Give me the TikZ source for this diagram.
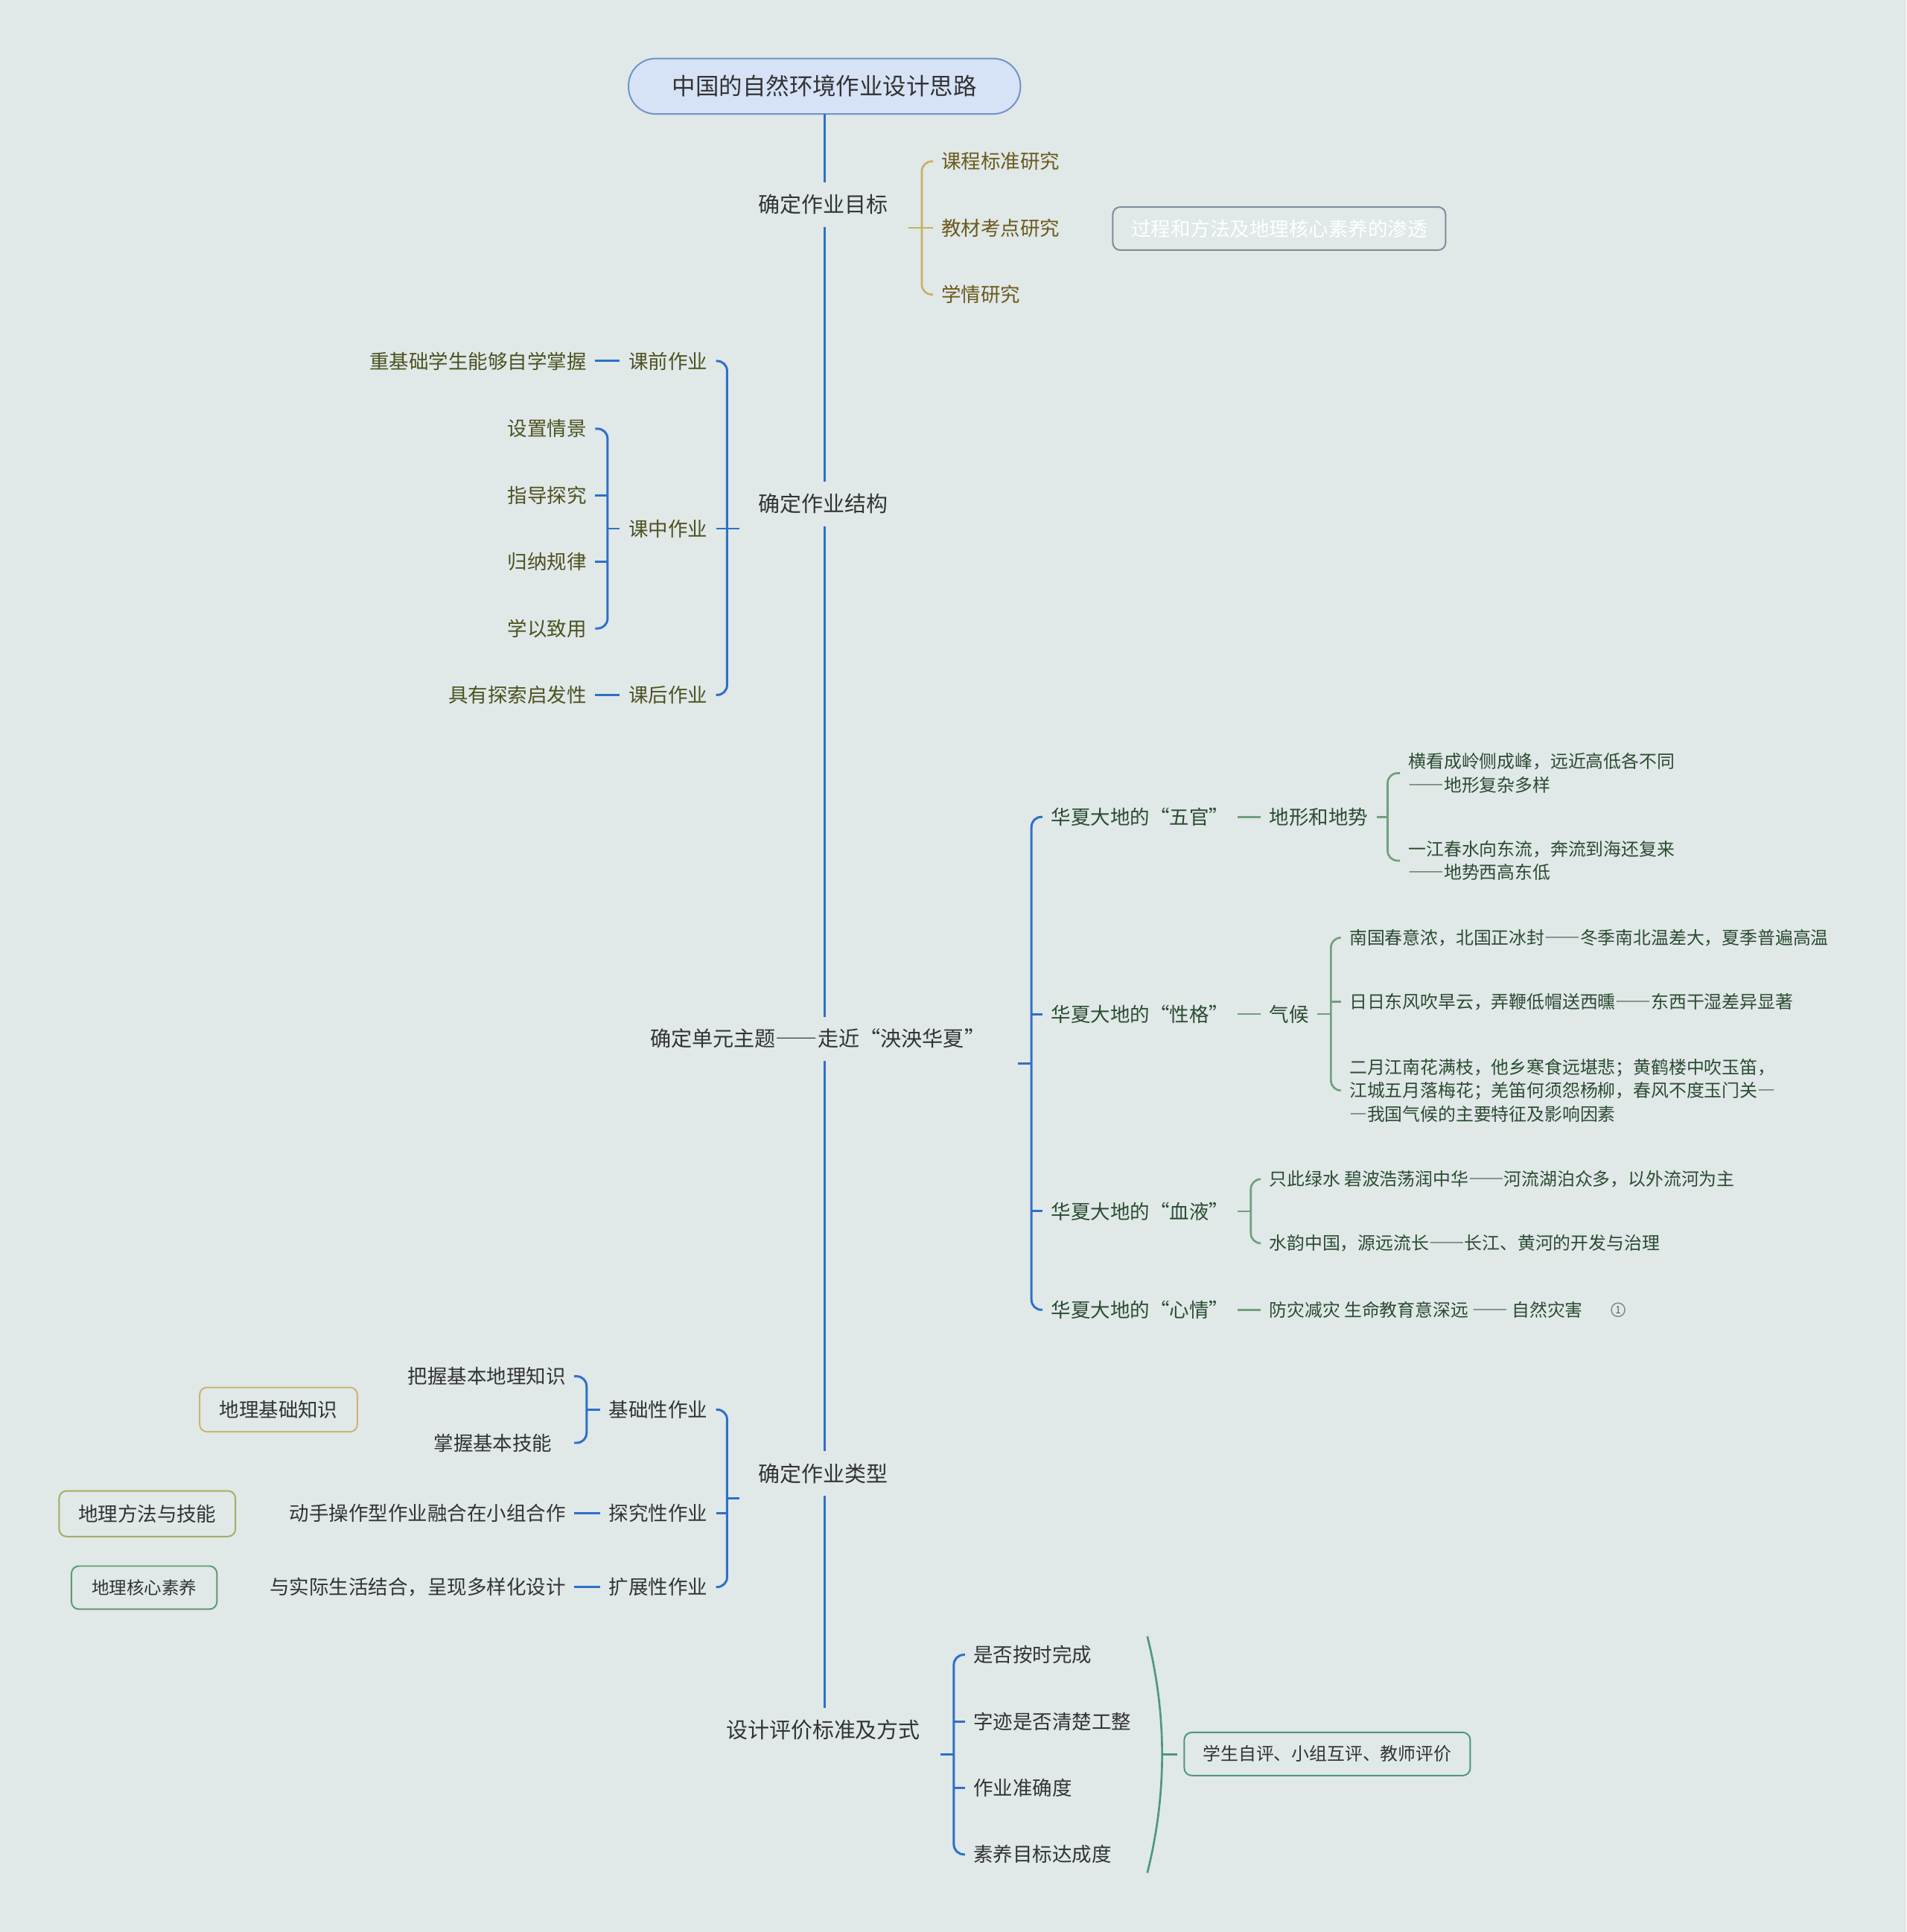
\documentclass[tikz,border=0pt]{standalone}
\usepackage{fontspec}
\setmainfont{Noto Sans CJK SC}[Script=CJK, Language=Chinese Simplified]
\definecolor{bg}{RGB}{224,232,232}
\definecolor{txt}{RGB}{51,51,51}
\definecolor{bl}{RGB}{46,112,200}
\definecolor{goldl}{RGB}{201,175,100}
\definecolor{goldt}{RGB}{107,90,28}
\definecolor{olivet}{RGB}{76,82,32}
\definecolor{greenl}{RGB}{112,160,122}
\definecolor{greent}{RGB}{44,76,50}
\definecolor{rootfill}{RGB}{214,226,246}
\definecolor{rootdraw}{RGB}{112,148,200}
\definecolor{wbdraw}{RGB}{125,140,156}
\definecolor{goldb}{RGB}{201,182,110}
\definecolor{oliveb}{RGB}{165,172,100}
\definecolor{greenb}{RGB}{95,154,110}
\definecolor{teal}{RGB}{78,150,131}
\begin{document}
\begin{tikzpicture}[x=0.5pt,y=-0.5pt,
  every node/.style={inner sep=0pt, outer sep=0pt},
  mainlbl/.style={text=txt, fill=bg, font=\fontsize{8.75pt}{10.5pt}\selectfont, inner xsep=3pt, inner ysep=5pt},
  sub/.style={font=\fontsize{8pt}{9.6pt}\selectfont, inner xsep=3.5pt, inner ysep=1pt},
  small/.style={font=\fontsize{7.2pt}{9.5pt}\selectfont, inner xsep=3.5pt, inner ysep=1pt, align=left},
  blline/.style={draw=bl, line width=0.9pt},
  goldline/.style={draw=goldl, line width=0.8pt},
  grline/.style={draw=greenl, line width=0.8pt},
  bxstyle/.style={draw, rounded corners=3pt, line width=0.6pt, text=txt},
]
\fill[bg] (0,0) rectangle (1547,1568);
\useasboundingbox (0,0) rectangle (1547,1568);

% root and main labels
\node[draw=rootdraw, fill=rootfill, rounded corners=11pt, line width=0.6pt,
      minimum width=159pt, minimum height=22.5pt, text=txt,
      font=\fontsize{9.5pt}{11pt}\selectfont] (root) at (669,70) {中国的自然环境作业设计思路};
\node[mainlbl] (m1) at (668,166) {确定作业目标};
\node[mainlbl] (m2) at (668,409) {确定作业结构};
\node[mainlbl, font=\fontsize{8.5pt}{10.5pt}\selectfont] (m3) at (663.5,843) {确定单元主题——走近“泱泱华夏”};
\node[mainlbl] (m4) at (668,1196) {确定作业类型};
\node[mainlbl] (m5) at (668,1404) {设计评价标准及方式};

\draw[blline] (root.south) -- (root.south |- m1.north);
\draw[blline] (root.south |- m1.south) -- (root.south |- m2.north);
\draw[blline] (root.south |- m2.south) -- (root.south |- m3.north);
\draw[blline] (root.south |- m3.south) -- (root.south |- m4.north);
\draw[blline] (root.south |- m4.south) -- (root.south |- m5.north);

% ---- branch 1 (gold)
\coordinate (t1) at (737,185);
\coordinate (b1) at (748,185);
\node[sub, text=goldt, anchor=west] (g1) at (757,131) {课程标准研究};
\node[sub, text=goldt, anchor=west] (g2) at (757,185) {教材考点研究};
\node[sub, text=goldt, anchor=west] (g3) at (757,239) {学情研究};
\draw[goldline, rounded corners=4pt] (g1.west) -- (b1 |- g1.west) -- (b1 |- g3.west) -- (g3.west);
\draw[goldline] (t1) -- (g2.west);
\node[bxstyle, draw=wbdraw, text=white, font=\fontsize{8pt}{9.6pt}\selectfont,
      minimum width=135pt, minimum height=17.5pt] (wb) at (1038,185.5) {过程和方法及地理核心素养的渗透};

% ---- branch 2 (blue, left)
\coordinate (t2) at (600,429);
\coordinate (b2) at (590,429);
\node[sub, text=olivet, anchor=east] (k1) at (581,293) {课前作业};
\node[sub, text=olivet, anchor=east] (k2) at (581,429) {课中作业};
\node[sub, text=olivet, anchor=east] (k3) at (581,564) {课后作业};
\draw[blline, rounded corners=4pt] (k1.east) -- (b2 |- k1.east) -- (b2 |- k3.east) -- (k3.east);
\draw[blline] (t2) -- (k2.east);

\node[sub, text=olivet, anchor=east] (k1a) at (483,293) {重基础学生能够自学掌握};
\draw[blline] (k1a.east) -- (k1.west);

\coordinate (b2b) at (493,429);
\node[sub, text=olivet, anchor=east] (s1) at (483,348) {设置情景};
\node[sub, text=olivet, anchor=east] (s2) at (483,402) {指导探究};
\node[sub, text=olivet, anchor=east] (s3) at (483,456) {归纳规律};
\node[sub, text=olivet, anchor=east] (s4) at (483,510) {学以致用};
\draw[blline, rounded corners=4pt] (s1.east) -- (b2b |- s1.east) -- (b2b |- s4.east) -- (s4.east);
\draw[blline] (s2.east) -- (b2b |- s2.east);
\draw[blline] (s3.east) -- (b2b |- s3.east);
\draw[blline] (k2.west) -- (b2b);

\node[sub, text=olivet, anchor=east] (k3a) at (483,564) {具有探索启发性};
\draw[blline] (k3a.east) -- (k3.west);

% ---- branch 3 (blue/green, right)
\coordinate (t3) at (826,863);
\coordinate (b3) at (837,863);
\node[sub, text=greent, anchor=west] (h1) at (846,663) {华夏大地的“五官”};
\node[sub, text=greent, anchor=west] (h2) at (846,823) {华夏大地的“性格”};
\node[sub, text=greent, anchor=west] (h3) at (846,983) {华夏大地的“血液”};
\node[sub, text=greent, anchor=west] (h4) at (846,1063) {华夏大地的“心情”};
\draw[blline, rounded corners=4pt] (h1.west) -- (b3 |- h1.west) -- (b3 |- h4.west) -- (h4.west);
\draw[blline] (h2.west) -- (b3 |- h2.west);
\draw[blline] (h3.west) -- (b3 |- h3.west);
\draw[blline] (t3) -- (b3);

% 五官
\node[sub, text=greent, anchor=west] (dx) at (1023,663) {地形和地势};
\draw[grline] (h1.east) -- (dx.west);
\coordinate (b4) at (1126,663);
\node[small, text=greent, anchor=west] (L1) at (1136,627.5) {横看成岭侧成峰，远近高低各不同\\——地形复杂多样};
\node[small, text=greent, anchor=west] (L2) at (1136,698.5) {一江春水向东流，奔流到海还复来\\——地势西高东低};
\draw[grline, rounded corners=4pt] (L1.west) -- (b4 |- L1.west) -- (b4 |- L2.west) -- (L2.west);
\draw[grline] (dx.east) -- (b4);

% 性格
\node[sub, text=greent, anchor=west] (qh) at (1023,823) {气候};
\draw[grline] (h2.east) -- (qh.west);
\coordinate (b5) at (1080,823);
\node[small, text=greent, anchor=west] (Q1) at (1088,761) {南国春意浓，北国正冰封——冬季南北温差大，夏季普遍高温};
\node[small, text=greent, anchor=west] (Q2) at (1088,813) {日日东风吹旱云，弄鞭低帽送西曛——东西干湿差异显著};
\node[small, text=greent, anchor=west] (Q3) at (1088,885) {二月江南花满枝，他乡寒食远堪悲；黄鹤楼中吹玉笛，\\江城五月落梅花；羌笛何须怨杨柳，春风不度玉门关—\\—我国气候的主要特征及影响因素};
\draw[grline, rounded corners=4pt] (Q1.west) -- (b5 |- Q1.west) -- (b5 |- Q3.west) -- (Q3.west);
\draw[grline] (Q2.west) -- (b5 |- Q2.west);
\draw[grline] (qh.east) -- (b5);

% 血液
\coordinate (b6) at (1015,983);
\node[small, text=greent, anchor=west] (R1) at (1023,957) {只此绿水 碧波浩荡润中华——河流湖泊众多，以外流河为主};
\node[small, text=greent, anchor=west] (R2) at (1023,1009) {水韵中国，源远流长——长江、黄河的开发与治理};
\draw[grline, rounded corners=4pt] (R1.west) -- (b6 |- R1.west) -- (b6 |- R2.west) -- (R2.west);
\draw[grline] (h3.east) -- (b6);

% 心情
\node[small, text=greent, anchor=west] (X1) at (1023,1063) {防灾减灾 生命教育意深远 —— 自然灾害};
\draw[grline] (h4.east) -- (X1.west);
\node[circle, draw=gray, line width=0.4pt, minimum size=5.5pt, text=gray!70!black,
      font=\fontsize{4pt}{4pt}\selectfont] (note) at (1313,1063) {1};

% ---- branch 4 (blue, left)
\coordinate (t4) at (600,1216);
\coordinate (b7) at (590,1216);
\node[sub, text=txt, anchor=east] (j1) at (581,1144) {基础性作业};
\node[sub, text=txt, anchor=east] (j2) at (581,1228) {探究性作业};
\node[sub, text=txt, anchor=east] (j3) at (581,1288) {扩展性作业};
\draw[blline, rounded corners=4pt] (j1.east) -- (b7 |- j1.east) -- (b7 |- j3.east) -- (j3.east);
\draw[blline] (j2.east) -- (b7 |- j2.east);
\draw[blline] (t4) -- (b7);

\coordinate (b8) at (476,1144);
\node[sub, text=txt, anchor=east] (z1) at (466,1117) {把握基本地理知识};
\node[sub, text=txt, anchor=east, inner xsep=9pt] (z2) at (466,1171) {掌握基本技能};
\draw[blline, rounded corners=4pt] (z1.east) -- (b8 |- z1.east) -- (b8 |- z2.east) -- (z2.east);
\draw[blline] (j1.west) -- (b8);

\node[sub, text=txt, anchor=east] (y2) at (466,1228) {动手操作型作业融合在小组合作};
\draw[blline] (y2.east) -- (j2.west);
\node[sub, text=txt, anchor=east] (y3) at (466,1288) {与实际生活结合，呈现多样化设计};
\draw[blline] (y3.east) -- (j3.west);

\node[bxstyle, draw=goldb, font=\fontsize{8pt}{9.6pt}\selectfont,
      minimum width=64pt, minimum height=18pt] (kb1) at (226,1144) {地理基础知识};
\node[bxstyle, draw=oliveb, font=\fontsize{8pt}{9.6pt}\selectfont,
      minimum width=71.5pt, minimum height=18.5pt] (kb2) at (119.5,1228.5) {地理方法与技能};
\node[bxstyle, draw=greenb, font=\fontsize{7.1pt}{9pt}\selectfont,
      minimum width=59pt, minimum height=17.5pt] (kb3) at (117,1288.5) {地理核心素养};

% ---- branch 5
\coordinate (t5) at (763,1424);
\coordinate (b9) at (774,1424);
\node[sub, text=txt, anchor=west] (p1) at (783,1343) {是否按时完成};
\node[sub, text=txt, anchor=west] (p2) at (783,1397) {字迹是否清楚工整};
\node[sub, text=txt, anchor=west] (p3) at (783,1451) {作业准确度};
\node[sub, text=txt, anchor=west] (p4) at (783,1505) {素养目标达成度};
\draw[blline, rounded corners=4pt] (p1.west) -- (b9 |- p1.west) -- (b9 |- p4.west) -- (p4.west);
\draw[blline] (p2.west) -- (b9 |- p2.west);
\draw[blline] (p3.west) -- (b9 |- p3.west);
\draw[blline] (t5) -- (b9);

\coordinate (sa) at (931,1328);
\coordinate (sb) at (931,1520);
\coordinate (sc) at (943,1424);
\coordinate (sd) at (955,1424);
\draw[draw=teal, line width=0.8pt] (sa) .. controls (939,1360) and (943,1392) .. (sc)
      .. controls (943,1456) and (939,1488) .. (sb);
\draw[draw=teal, line width=0.8pt] (sc) -- (sd);
\node[bxstyle, draw=teal, font=\fontsize{7.2pt}{9pt}\selectfont,
      minimum width=116pt, minimum height=17.5pt] (ev) at (1077,1423.5) {学生自评、小组互评、教师评价};
\end{tikzpicture}
\end{document}
